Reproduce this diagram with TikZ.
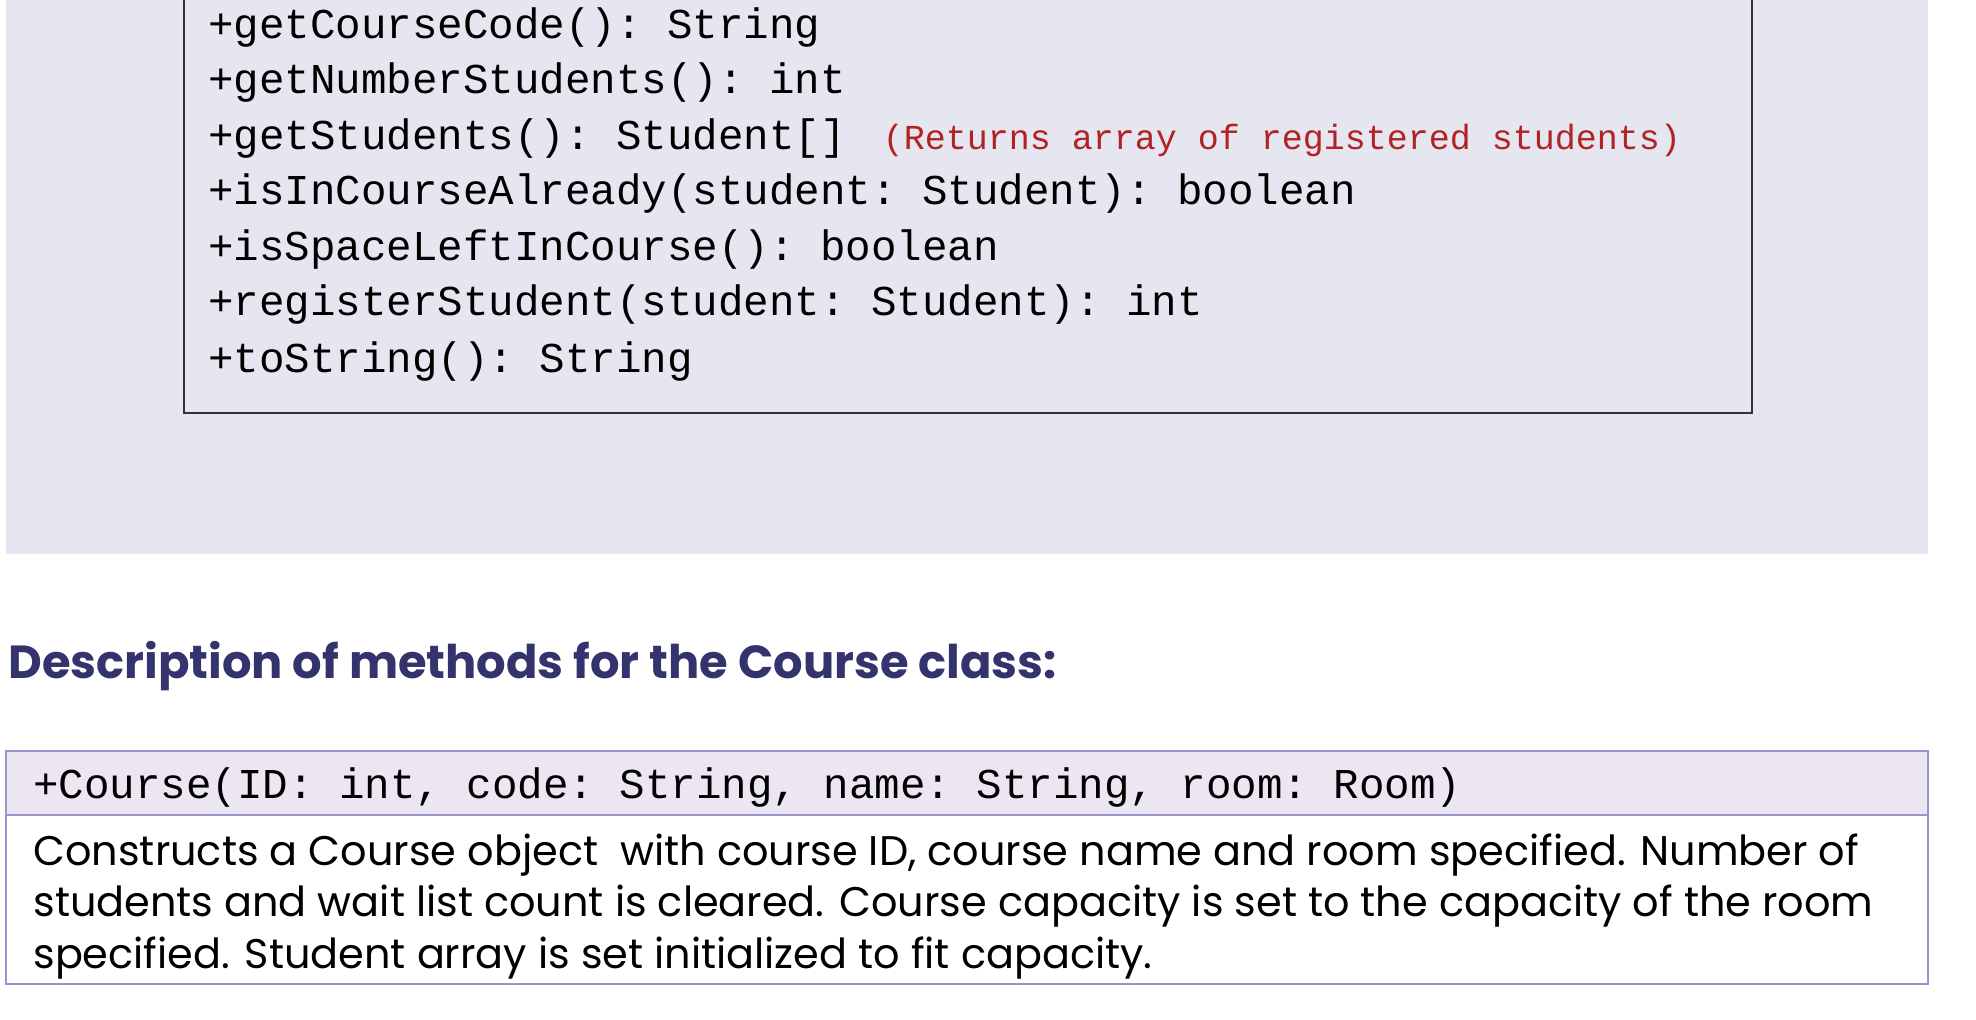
\documentclass[tikz,border=0pt]{standalone}
\usepackage{fontspec}
\setmainfont{Poppins}
\setmonofont{Liberation Mono}
\usetikzlibrary{positioning}

\definecolor{panelbg}{RGB}{230,230,241}
\definecolor{headblue}{RGB}{51,51,110}
\definecolor{tableline}{RGB}{150,150,204}
\definecolor{tablehead}{RGB}{236,229,242}
\definecolor{noteRed}{RGB}{178,34,34}

\begin{document}
\begin{tikzpicture}[x=0.5pt,y=-0.5pt,
  method/.style={anchor=west,inner sep=0pt,font=\fontsize{21.25}{24}\selectfont\ttfamily},
  note/.style={inner sep=0pt,text=noteRed,font=\fontsize{17.5}{20}\selectfont\ttfamily},
  heading/.style={anchor=west,inner sep=0pt,text=headblue,font=\fontsize{23.2}{28}\selectfont\bfseries},
  desc/.style={anchor=west,inner sep=0pt,font=\fontsize{20.7}{24}\selectfont}]

\useasboundingbox (0,0) rectangle (1976,1020);

% Shaded panel behind the class box
\fill [panelbg] (6,0) rectangle (1928,554);

% Methods compartment of the class box (top edge is cut off)
\draw [line width=1pt, black!80] (184,-10) -- (184,413) -- (1752,413) -- (1752,-10);

% Method list
\foreach \y/\txt [count=\i] in {28/{+getCourseCode(): String},
    83/{+getNumberStudents(): int},
    139/{+getStudents(): Student[]},
    194/{+isInCourseAlready(student: Student): boolean},
    250/{+isSpaceLeftInCourse(): boolean},
    305/{+registerStudent(student: Student): int},
    362/{+toString(): String}}
  \node [method] (m\i) at (208,\y) {\txt};

\node [note, base right=18pt of m3] (ret) {(Returns array of registered students)};

% Heading of the description
\node [heading] (title) at (8,666) {Description of methods for the Course class:};

% Description table
\draw [line width=1pt, tableline, fill=tablehead] (6,751) rectangle (1928,815);
\draw [line width=1pt, tableline, fill=white] (6,815) rectangle (1928,984);

\node [method] (ctor) at (33,788) {+Course(ID: int, code: String, name: String, room: Room)};
\node [desc] (d1) at (33,855) {Constructs a Course object\ \ with course ID, course name and room specified. Number of};
\node [desc] (d2) at (33,906) {students and wait list count is cleared. Course capacity is set to the capacity of the room};
\node [desc] (d3) at (33,958) {specified. Student array is set initialized to fit capacity.};

\end{tikzpicture}
\end{document}
